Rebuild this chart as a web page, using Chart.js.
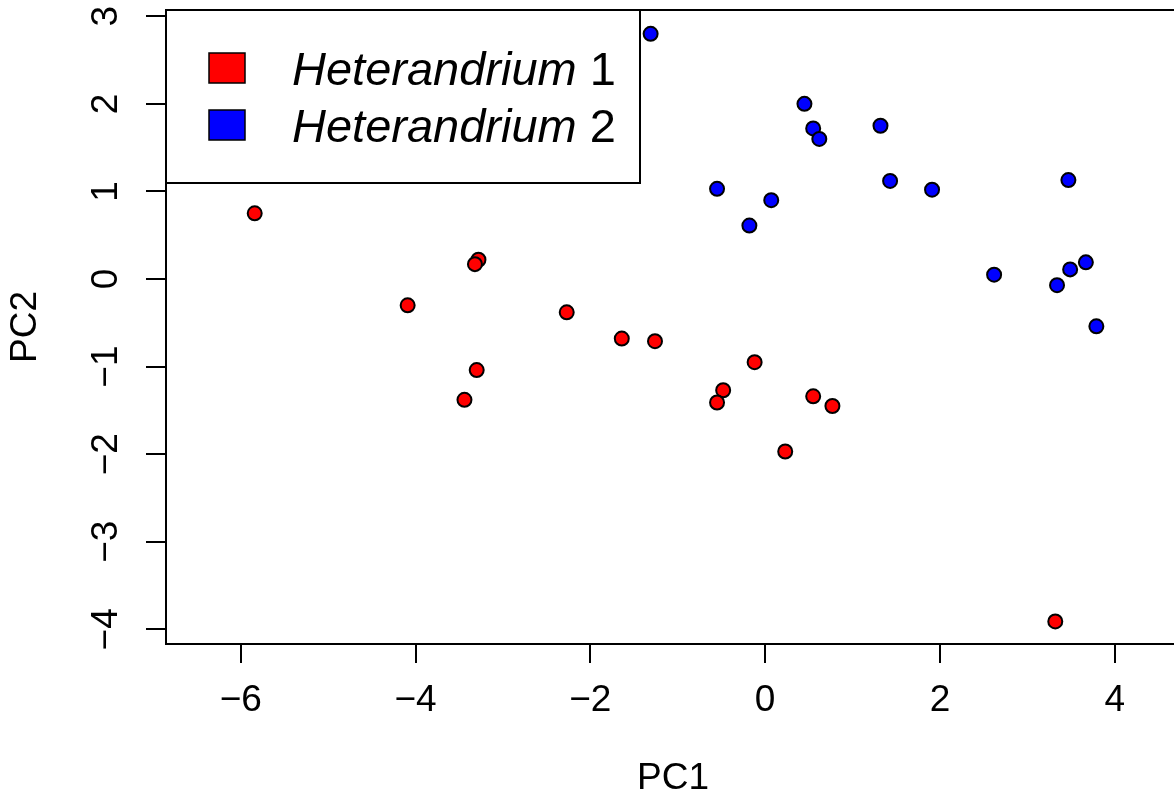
<!DOCTYPE html>
<html><head><meta charset="utf-8">
<script src="https://cdn.jsdelivr.net/npm/chart.js@4/dist/chart.umd.min.js"></script>
<style>
html,body{margin:0;padding:0;background:#fff;overflow:hidden;}
#clip{width:1174px;height:793px;overflow:hidden;position:relative;}
#c{display:block;}
</style></head><body>
<div id="clip"><canvas id="c" width="1180" height="793"></canvas></div>
<script>
// ---- data ----
const seriesGenus = ["Heterandrium", "Heterandrium"];
const seriesNumber = ["1", "2"];
const seriesColors = ["#FF0000", "#0000FF"];

const h1PC1 = [-5.84, -3.28, -3.32, -4.09, -3.30, -3.44, -2.27, -1.64, -1.26, -0.12, -0.48, -0.55, 0.55, 0.77, 0.23, 3.32];
const h1PC2 = [0.75, 0.22, 0.17, -0.30, -1.04, -1.38, -0.38, -0.68, -0.71, -0.95, -1.27, -1.41, -1.34, -1.45, -1.97, -3.91];

const h2PC1 = [-1.31, 0.45, 0.55, 0.62, 1.32, 1.43, 1.91, -0.55, 0.07, -0.18, 3.47, 2.62, 3.67, 3.49, 3.34, 3.79];
const h2PC2 = [2.80, 2.00, 1.72, 1.60, 1.75, 1.12, 1.02, 1.03, 0.90, 0.61, 1.13, 0.05, 0.19, 0.11, -0.07, -0.54];

const xTicks = [-6, -4, -2, 0, 2, 4];
const yTicks = [-4, -3, -2, -1, 0, 1, 2, 3];
const xTitle = "PC1";
const yTitle = "PC2";

// ---- chart ----
const FAM = "'Liberation Sans', Arial, Helvetica, sans-serif";
const tickFont = {family: FAM, size: 37};
const fmt = v => (v < 0 ? "\u2212" + Math.abs(v) : String(v));
const pts = (xs, ys) => xs.map((x, i) => ({x: x, y: ys[i]}));

const XMIN = -6.855, XMAX = 4.747, YMIN = -4.168, YMAX = 3.072;

const legendPlugin = {
  id: 'rLegend',
  afterDraw(chart) {
    const ctx = chart.ctx;
    const a = chart.chartArea;
    const L = a.left, T = a.top, W = 474, H = 173;
    ctx.save();
    ctx.fillStyle = '#fff';
    ctx.fillRect(L, T, W, H);
    ctx.lineWidth = 2;
    ctx.strokeStyle = '#000';
    ctx.strokeRect(L, T, W, H);
    for (let i = 0; i < seriesGenus.length; i++) {
      const base = T + 75 + i * 57;
      ctx.fillStyle = seriesColors[i];
      ctx.fillRect(L + 43, base - 32, 36, 30);
      ctx.lineWidth = 1.5;
      ctx.strokeRect(L + 43, base - 32, 36, 30);
      ctx.fillStyle = '#000';
      ctx.textBaseline = 'alphabetic';
      ctx.textAlign = 'left';
      ctx.font = "italic 47px " + FAM;
      const tx = L + 126;
      ctx.fillText(seriesGenus[i], tx, base);
      const w = ctx.measureText(seriesGenus[i]).width;
      ctx.font = "47px " + FAM;
      ctx.fillText(" " + seriesNumber[i], tx + w, base);
    }
    ctx.restore();
  }
};

const noPad = s => { s.paddingTop = 0; s.paddingBottom = 0; s.paddingLeft = 0; s.paddingRight = 0; };

new Chart(document.getElementById('c'), {
  type: 'scatter',
  data: {
    datasets: [
      {label: seriesGenus[0] + " " + seriesNumber[0], data: pts(h1PC1, h1PC2),
       backgroundColor: seriesColors[0], borderColor: '#000', borderWidth: 2, pointRadius: 7, pointHoverRadius: 7},
      {label: seriesGenus[1] + " " + seriesNumber[1], data: pts(h2PC1, h2PC2),
       backgroundColor: seriesColors[1], borderColor: '#000', borderWidth: 2, pointRadius: 7, pointHoverRadius: 7}
    ]
  },
  options: {
    responsive: false,
    maintainAspectRatio: false,
    animation: false,
    devicePixelRatio: 1,
    layout: {padding: 0, autoPadding: false},
    plugins: {legend: {display: false}, tooltip: {enabled: false}},
    scales: {
      x: {
        type: 'linear', position: 'bottom', min: XMIN, max: XMAX,
        afterBuildTicks: s => { s.ticks = xTicks.map(v => ({value: v})); },
        afterFit: s => { s.height = 149; noPad(s); },
        grid: {drawOnChartArea: false, drawTicks: true, tickLength: 19, color: '#000', lineWidth: 2},
        border: {display: true, color: '#000', width: 2},
        ticks: {font: tickFont, color: '#000', padding: 16, maxRotation: 0, autoSkip: false, callback: v => fmt(v)},
        title: {display: true, text: xTitle, font: tickFont, color: '#000', padding: {top: 0, bottom: -8}}
      },
      x2: {
        type: 'linear', position: 'top', min: XMIN, max: XMAX, display: true,
        afterFit: s => { s.height = 10; noPad(s); },
        ticks: {display: false},
        grid: {drawOnChartArea: false, drawTicks: false},
        border: {display: true, color: '#000', width: 2}
      },
      y: {
        type: 'linear', position: 'left', min: YMIN, max: YMAX,
        afterBuildTicks: s => { s.ticks = yTicks.map(v => ({value: v})); },
        afterFit: s => { s.width = 166; noPad(s); },
        grid: {drawOnChartArea: false, drawTicks: true, tickLength: 20, color: '#000', lineWidth: 2},
        border: {display: true, color: '#000', width: 2},
        ticks: {font: tickFont, color: '#000', padding: 18, minRotation: 90, maxRotation: 90, crossAlign: 'center', autoSkip: false, callback: v => fmt(v)},
        title: {display: true, text: yTitle, font: tickFont, color: '#000', padding: {top: 4, bottom: 0}}
      }
    }
  },
  plugins: [legendPlugin]
});
</script>
</body></html>
